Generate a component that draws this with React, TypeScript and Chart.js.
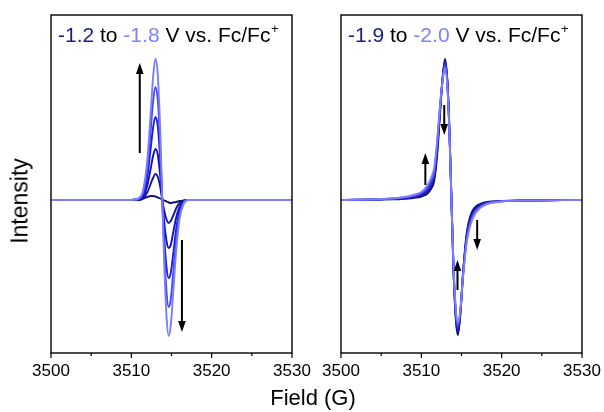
import React, { useEffect, useRef } from "react";
import { Chart, registerables } from "chart.js";

Chart.register(...registerables);

const fieldMin = 3500;
const fieldMax = 3530;
const majorTicks = [3500, 3510, 3520, 3530];
const minorTicks = [3505, 3515, 3525];
const yMin = -153;
const yMax = 185;

// Left panel: -1.2 to -1.8 V (dark -> light)
const leftField = [3500, 3508, 3510, 3511, 3511.5, 3512, 3512.4, 3512.7, 3513.0, 3513.3, 3513.6, 3513.85, 3514.1, 3514.4, 3514.65, 3514.9, 3515.2, 3515.6, 3516, 3516.5, 3517, 3518, 3520, 3530];
const leftScan1 = [0, 0, 0, 0.5, 1.5, 3, 4, 4, 3.5, 2.5, 1.5, 0.5, -0.5, -1.5, -2.5, -3, -2.5, -2, -1, -0.5, 0, 0, 0, 0];
const leftScan2 = [0, 0, 0, 0, 2, 8, 16, 22, 26, 23, 13, 0, -11, -20, -23, -21, -16, -8, -3, -1, 0, 0, 0, 0];
const leftScan3 = [0, 0, 0, 1, 4, 15, 31, 44, 51, 45, 24, 0, -23, -42, -48, -45, -33, -17, -7, -1, 0, 0, 0, 0];
const leftScan4 = [0, 0, 0, 1, 6, 24, 51, 72, 83, 73, 40, 0, -38, -69, -78, -73, -55, -28, -11, -2, 0, 0, 0, 0];
const leftScan5 = [0, 0, 0, 2, 9, 33, 69, 98, 113, 99, 54, 0, -51, -94, -107, -100, -74, -39, -15, -3, 0, 0, 0, 0];
const leftScan6 = [0, 0, 0, 2, 11, 41, 86, 122, 141, 124, 68, 0, -65, -119, -136, -126, -94, -49, -19, -4, 0, 0, 0, 0];
const leftColors = ["#14146e", "#16169c", "#1010c0", "#1c1ce0", "#4646f8", "#7c7cff"];

// Right panel: -1.9 to -2.0 V (dark -> light)
const rightField = [3500, 3505, 3507.5, 3509, 3510, 3510.7, 3511.2, 3511.6, 3511.95, 3512.3, 3512.65, 3512.95, 3513.25, 3513.5, 3513.75, 3514.0, 3514.3, 3514.55, 3514.85, 3515.2, 3515.65, 3516.1, 3516.6, 3517.3, 3518.2, 3520, 3523, 3530];
const rightScan1 = [0, 0.5, 1, 2, 3.5, 6, 11, 19, 43, 83, 122, 141, 118, 70, 0, -70, -120, -135, -115, -72, -33, -16, -8, -4, -2, -1, -0.5, 0];
const rightScan2 = [0, 0.6, 1.4, 2.7, 4.6, 8, 13.7, 22, 47, 86, 122, 139, 117, 69, 0, -68, -118, -132, -114, -73, -35, -18, -10, -5, -2.5, -1.1, -0.5, 0];
const rightScan3 = [0, 0.8, 1.8, 3.5, 5.8, 10, 16.5, 25, 51, 88, 121, 137, 116, 68, 0, -67, -115, -129, -113, -74, -37, -20, -11, -6, -3, -1.2, -0.5, 0];
const rightScan4 = [0, 0.9, 2.2, 4.2, 7, 12, 19, 28, 54, 90, 121, 135, 114, 67, 0, -65, -113, -126, -112, -75, -40, -23, -13, -7, -3.5, -1.3, -0.5, 0];
const rightScan5 = [0, 1, 2.5, 5, 8, 14, 22, 32, 58, 92, 120, 132, 112, 66, 0, -64, -110, -123, -110, -76, -42, -25, -15, -8, -4, -1.5, -0.5, 0];
const rightColors = ["#0c0c70", "#1a1aa8", "#2424d4", "#4a4af2", "#7d7dff"];

const leftTitle: [string, string][] = [["-1.2", "#1c1c80"], [" to ", "#000000"], ["-1.8", "#7f7fff"], [" V vs. Fc/Fc", "#000000"]];
const rightTitle: [string, string][] = [["-1.9", "#1c1c80"], [" to ", "#000000"], ["-2.0", "#7f7fff"], [" V vs. Fc/Fc", "#000000"]];

const leftArrows = [
  { field: 3511.05, from: 47, to: 137 },
  { field: 3516.3, from: -40, to: -132 },
];
const rightArrows = [
  { field: 3510.5, from: 15, to: 47 },
  { field: 3512.85, from: 95, to: 65 },
  { field: 3514.5, from: -90, to: -60 },
  { field: 3516.95, from: -20, to: -50 },
];

const FONT = '"Liberation Sans", Arial, Helvetica, sans-serif';

function decorPlugin(titleParts: [string, string][], arrows: { field: number; from: number; to: number }[]) {
  return {
    id: "decor",
    afterDatasetsDraw(chart: any) {
      const { ctx, chartArea: a, scales } = chart;
      const xs = scales.x;
      const ys = scales.y;
      ctx.save();
      ctx.strokeStyle = "#000";
      ctx.lineWidth = 1.4;
      ctx.strokeRect(a.left, a.top, a.right - a.left, a.bottom - a.top);
      ctx.lineWidth = 1.2;
      ctx.beginPath();
      majorTicks.forEach((v) => {
        const px = xs.getPixelForValue(v);
        ctx.moveTo(px, a.bottom);
        ctx.lineTo(px, a.bottom + 5);
      });
      minorTicks.forEach((v) => {
        const px = xs.getPixelForValue(v);
        ctx.moveTo(px, a.bottom);
        ctx.lineTo(px, a.bottom + 3);
      });
      ctx.stroke();

      ctx.font = `21px ${FONT}`;
      ctx.textBaseline = "alphabetic";
      let tx = a.left + 7;
      const ty = a.top + 27;
      for (const [t, c] of titleParts) {
        ctx.fillStyle = c;
        ctx.fillText(t, tx, ty);
        tx += ctx.measureText(t).width;
      }
      ctx.font = `13px ${FONT}`;
      ctx.fillStyle = "#000";
      ctx.fillText("+", tx + 0.5, ty - 9);

      ctx.fillStyle = "#000";
      ctx.strokeStyle = "#000";
      ctx.lineWidth = 2;
      arrows.forEach((ar) => {
        const px = xs.getPixelForValue(ar.field);
        const y0 = ys.getPixelForValue(ar.from);
        const y1 = ys.getPixelForValue(ar.to);
        const dir = y1 < y0 ? -1 : 1;
        const head = 11;
        ctx.beginPath();
        ctx.moveTo(px, y0);
        ctx.lineTo(px, y1 - dir * head);
        ctx.stroke();
        ctx.beginPath();
        ctx.moveTo(px, y1);
        ctx.lineTo(px - 3.8, y1 - dir * head);
        ctx.lineTo(px + 3.8, y1 - dir * head);
        ctx.closePath();
        ctx.fill();
      });
      ctx.restore();
    },
  };
}

type PanelProps = {
  field: number[];
  series: number[][];
  colors: string[];
  padding: { left: number; right: number; top: number; bottom: number };
  title: [string, string][];
  arrows: { field: number; from: number; to: number }[];
  left: number;
  width: number;
};

function Panel({ field, series, colors, padding, title, arrows, left, width }: PanelProps) {
  const ref = useRef<HTMLCanvasElement | null>(null);
  useEffect(() => {
    if (!ref.current) return;
    const n = series.length;
    const chart = new Chart(ref.current, {
      type: "line",
      data: {
        datasets: series.map((vals, i) => ({
          label: `scan ${i + 1}`,
          data: field.map((x, j) => ({ x, y: vals[j] })),
          borderColor: colors[i],
          backgroundColor: colors[i],
          borderWidth: 1.9,
          pointRadius: 0,
          fill: false,
          cubicInterpolationMode: "monotone" as const,
          order: n - 1 - i,
        })),
      },
      options: {
        responsive: false,
        animation: false,
        layout: { padding },
        plugins: { legend: { display: false }, tooltip: { enabled: false } },
        scales: {
          x: {
            type: "linear",
            min: fieldMin,
            max: fieldMax,
            grid: { display: false, drawTicks: true, tickLength: 5 },
            border: { display: false },
            ticks: {
              stepSize: 5,
              autoSkip: false,
              maxRotation: 0,
              padding: 3,
              color: "#000",
              font: { family: FONT, size: 17 },
              callback: (v: any) => (majorTicks.includes(Number(v)) ? String(v) : ""),
            },
          },
          y: { display: false, min: yMin, max: yMax },
        },
      },
      plugins: [decorPlugin(title, arrows)],
    } as any);
    return () => chart.destroy();
  }, []);
  return (
    <canvas
      ref={ref}
      width={width}
      height={412}
      style={{ position: "absolute", left, top: 0, width, height: 412, display: "block" }}
    />
  );
}

export default function App() {
  return (
    <div style={{ position: "absolute", left: 0, top: 0, width: 604, height: 412, background: "#fff", overflow: "hidden" }}>
      <Panel
        field={leftField}
        series={[leftScan1, leftScan2, leftScan3, leftScan4, leftScan5, leftScan6]}
        colors={leftColors}
        padding={{ left: 51, right: 38, top: 15, bottom: 27.6 }}
        title={leftTitle}
        arrows={leftArrows}
        left={0}
        width={330}
      />
      <Panel
        field={rightField}
        series={[rightScan1, rightScan2, rightScan3, rightScan4, rightScan5]}
        colors={rightColors}
        padding={{ left: 41, right: 22, top: 15, bottom: 27.6 }}
        title={rightTitle}
        arrows={rightArrows}
        left={300}
        width={304}
      />
      <div
        style={{
          position: "absolute",
          left: 20,
          top: 201,
          width: 200,
          textAlign: "center",
          fontFamily: FONT,
          fontSize: 23,
          lineHeight: "23px",
          color: "#000",
          transform: "translate(-50%, -50%) rotate(-90deg)",
          whiteSpace: "nowrap",
        }}
      >
        Intensity
      </div>
      <div
        style={{
          position: "absolute",
          left: 313,
          top: 398,
          width: 200,
          textAlign: "center",
          fontFamily: FONT,
          fontSize: 22,
          lineHeight: "22px",
          color: "#000",
          transform: "translate(-50%, -50%)",
          whiteSpace: "nowrap",
        }}
      >
        Field (G)
      </div>
    </div>
  );
}
